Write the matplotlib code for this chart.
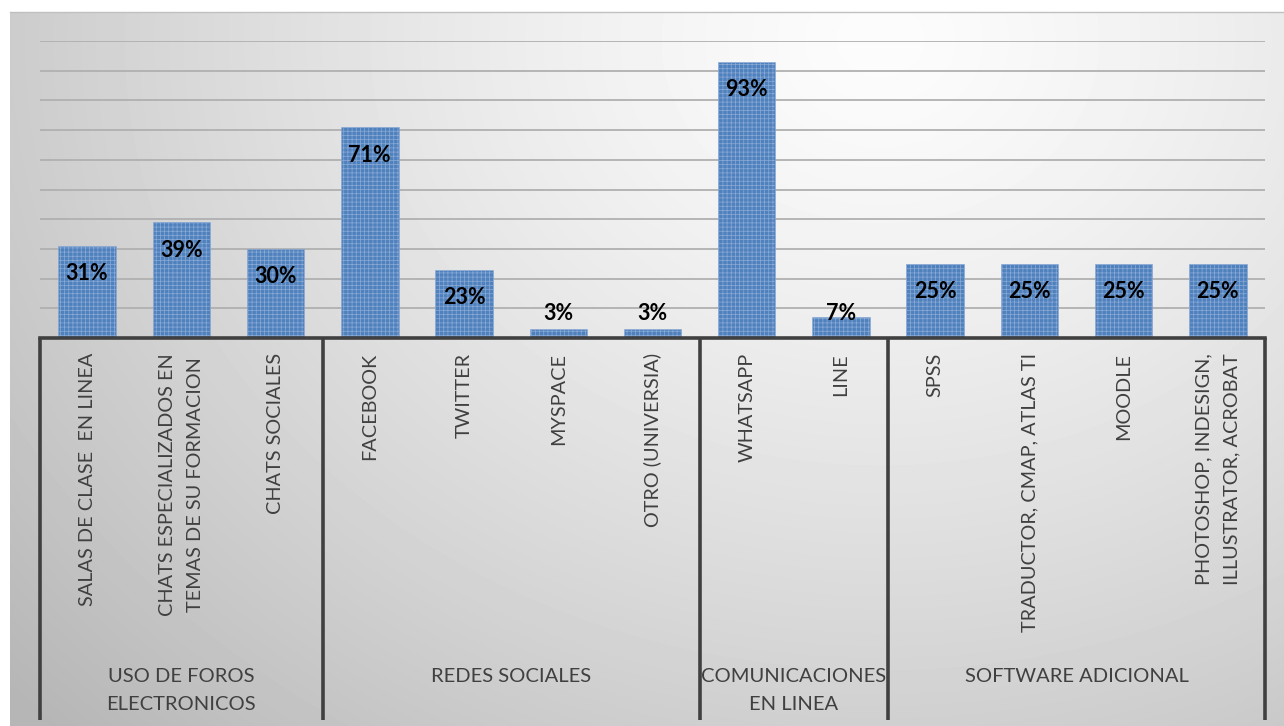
import numpy as np
import matplotlib
matplotlib.use('Agg')
import matplotlib.pyplot as plt
from matplotlib.lines import Line2D

# data
groups = ['USO DE FOROS\nELECTRONICOS', 'REDES SOCIALES', 'COMUNICACIONES\nEN LINEA', 'SOFTWARE ADICIONAL']
group_sizes = [3, 4, 2, 4]
labels = ['SALAS DE CLASE  EN LINEA', 'CHATS ESPECIALIZADOS EN\nTEMAS DE SU FORMACION', 'CHATS SOCIALES',
          'FACEBOOK', 'TWITTER', 'MYSPACE', 'OTRO (UNIVERSIA)',
          'WHATSAPP', 'LINE',
          'SPSS', 'TRADUCTOR, CMAP, ATLAS TI', 'MOODLE', 'PHOTOSHOP, INDESIGN,\nILLUSTRATOR, ACROBAT']
values = [31, 39, 30, 71, 23, 3, 3, 93, 7, 25, 25, 25, 25]

plt.rcParams['font.family'] = ['Lato', 'DejaVu Sans']
W, H = 1284, 726
fig = plt.figure(figsize=(W / 100, H / 100), dpi=100)

# radial gray background
bg = fig.add_axes([10 / W, 0, (W - 10) / W, (H - 12) / H])
yy, xx = np.mgrid[12:H, 10:W]
r = np.sqrt(((xx - 880) / 900.0) ** 2 + ((yy - 40) / 750.0) ** 2)
r = np.clip(r, 0, 1.3)
val = (252 - 50 * r ** 1.3) / 255.0
bg.imshow(val, cmap='gray', vmin=0, vmax=1, aspect='auto', interpolation='bilinear')
bg.axis('off')
fig.add_artist(Line2D([10 / W, 1], [(H - 12) / H] * 2, color='#c0c0c0', lw=1))

x0, x1, ybase, ytop = 40, 1265, 338, 41
ax = fig.add_axes([x0 / W, (H - ybase) / H, (x1 - x0) / W, (ybase - ytop) / H])
ax.patch.set_alpha(0)
n = len(values)
x = np.arange(n)
plt.rcParams['hatch.linewidth'] = 0.5
plt.rcParams['hatch.color'] = '#8aaad6'
ax.bar(x, values, width=0.61, color='#4f81bd', hatch='++++', edgecolor='#8aaad6', linewidth=0.4, zorder=3)
ax.set_xlim(-0.5, n - 0.5)
ax.set_ylim(0, 100)
for gy in range(10, 101, 10):
    ax.axhline(gy, color='#b0b0b0', lw=1.3, zorder=1)
for s in ax.spines.values():
    s.set_visible(False)
ax.set_xticks([])
ax.set_yticks([])
ax.axhline(0, color='#404040', lw=2.6, zorder=4, clip_on=False)

for i, v in enumerate(values):
    ly = max(v - 9.4, 8.3)
    ax.text(i, ly, f'{v}%', ha='center', va='center', fontsize=15.5, fontweight='bold', color='black', zorder=5)

px = (ybase - ytop) / 100.0  # pixels per unit
def ay(ypix):
    return (ybase - ypix) / px

for i, lab in enumerate(labels):
    ax.text(i, ay(353), lab, rotation=90, ha='center', va='top', multialignment='center',
            fontsize=14.3, color='#404040', linespacing=1.75, clip_on=False)

edges = [-0.5]
for g in group_sizes:
    edges.append(edges[-1] + g)
for e in edges:
    ax.plot([e, e], [0, ay(720)], color='#404040', lw=2.6, clip_on=False, solid_capstyle='butt')
for gi, g in enumerate(groups):
    cx = (edges[gi] + edges[gi + 1]) / 2
    ax.text(cx, ay(668), g, ha='center', va='top', fontsize=14.5, color='#404040', linespacing=1.8, clip_on=False)

fig.savefig('out.png', dpi=100)
